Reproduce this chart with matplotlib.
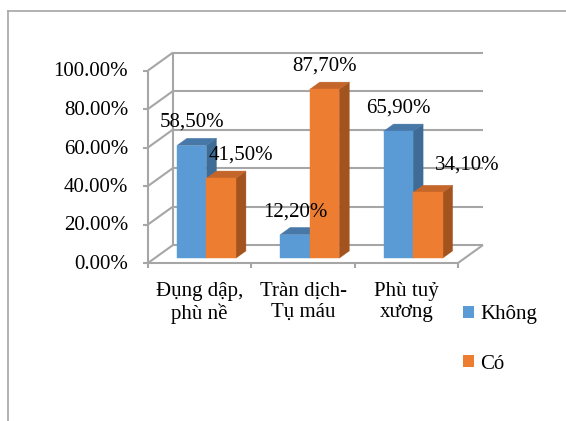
import matplotlib
matplotlib.use("Agg")
import matplotlib.pyplot as plt
from matplotlib.patches import Polygon, Patch
from matplotlib.lines import Line2D

categories = ["Đụng dập,\nphù nề", "Tràn dịch-\nTụ máu", "Phù tuỷ\nxương"]
series_names = ["Không", "Có"]
khong = [58.5, 12.2, 65.9]
co = [41.5, 87.7, 34.1]
value_labels = [["58,50%", "12,20%", "65,90%"], ["41,50%", "87,70%", "34,10%"]]
y_ticks = [0, 20, 40, 60, 80, 100]
y_tick_labels = ["0.00%", "20.00%", "40.00%", "60.00%", "80.00%", "100.00%"]

# per-label manual offsets (pixels) as in the reference
label_dx = [[0, 0, 0], [20, 0, 39]]
label_dy = [[0, 0, 0], [0, 0, 4]]

FONT = ["Liberation Serif", "DejaVu Serif"]
FS = 15
W, H = 566, 421
fig = plt.figure(figsize=(W / 100, H / 100), dpi=100)
ax = fig.add_axes([148 / W, (H - 263) / H, 310 / W, 192.5 / H])
ax.set_xlim(0, 3)
ax.set_ylim(0, 100)
ax.axis("off")

px_x = 3 / 310.0
px_y = 100 / 192.5
DX = 25 * px_x
DY = 18 * px_y


def P(x, y, d):
    return (x + d * DX, y + d * DY)


grid_c = "#A6A6A6"
glw = 1.5


def line(p, q, **kw):
    ax.add_line(Line2D([p[0], q[0]], [p[1], q[1]], color=grid_c, lw=glw,
                       clip_on=False, solid_capstyle="butt", zorder=1, **kw))


n = len(categories)
for k, v in enumerate(y_ticks):
    line(P(0, v, 1), P(n, v, 1))
    line(P(0, v, 0), P(0, v, 1))
    line((-5 * px_x, v), (0, v))
    ax.text(-20 * px_x, v - 1.5 * px_y, y_tick_labels[k], ha="right",
            va="center", fontsize=FS, family=FONT, clip_on=False)
line(P(0, 0, 1), P(0, 100, 1))
line(P(0, 0, 0), P(0, 100, 0))
line(P(0, 0, 0), P(n, 0, 0))
line(P(n, 0, 0), P(n, 0, 1))
for i in range(n + 1):
    line((i, 0), (i, -5 * px_y))

for i, c in enumerate(categories):
    ax.text(i + 0.5, -19 * px_y, c, ha="center", va="top", fontsize=FS,
            family=FONT, linespacing=1.15, clip_on=False)

colors = [("#5B9BD5", "#4878A8", "#3E6C96"), ("#ED7D31", "#C4652A", "#A3531E")]
w = 0.2855
d0, d1 = 0.27, 0.67
z = 3
for i in range(n):
    for s, vals in enumerate([khong, co]):
        h = vals[i]
        x0 = i + 0.5 - w + s * w
        x1 = x0 + w
        front, top, side = colors[s]
        faces = [
            ([P(x1, 0, d0), P(x1, 0, d1), P(x1, h, d1), P(x1, h, d0)], side),
            ([P(x0, h, d0), P(x1, h, d0), P(x1, h, d1), P(x0, h, d1)], top),
            ([P(x0, 0, d0), P(x1, 0, d0), P(x1, h, d0), P(x0, h, d0)], front),
        ]
        for pts, col in faces:
            ax.add_patch(Polygon(pts, closed=True, facecolor=col, edgecolor=col,
                                 lw=0.3, zorder=z, clip_on=False))
        z += 1
        cx, cy = P((x0 + x1) / 2, h, d0)
        ax.text(cx + label_dx[s][i] * px_x, cy + (23 + label_dy[s][i]) * px_y,
                value_labels[s][i], ha="center", va="center", fontsize=FS,
                family=FONT, zorder=20, clip_on=False)

handles = [Patch(facecolor=colors[k][0], edgecolor="none") for k in range(2)]
fig.legend(handles, series_names, loc="center left",
           bbox_to_anchor=(455 / W, 1 - 339.5 / H), frameon=False,
           prop={"family": FONT, "size": FS}, handlelength=0.5, handleheight=0.5,
           handletextpad=0.3, labelspacing=1.45, borderaxespad=0)

fig.add_artist(Line2D([8 / W, 1], [1 - 10.5 / H, 1 - 10.5 / H], color=grid_c,
                      lw=1.2, transform=fig.transFigure))
fig.add_artist(Line2D([8 / W, 8 / W], [0, 1 - 10.5 / H], color=grid_c,
                      lw=1.2, transform=fig.transFigure))

fig.savefig("out.png", dpi=100)
